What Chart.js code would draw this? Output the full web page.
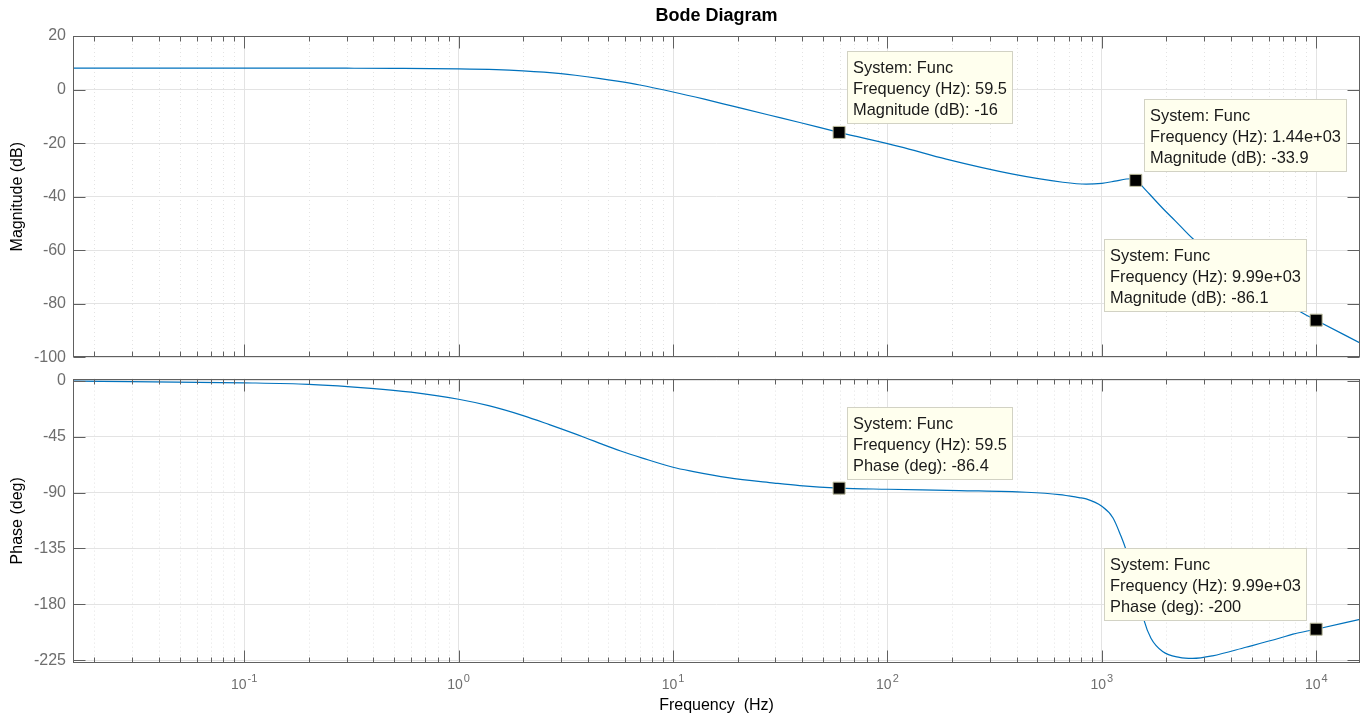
<!DOCTYPE html>
<html>
<head>
<meta charset="utf-8">
<title>Bode Diagram</title>
<script src="https://cdn.jsdelivr.net/npm/chart.js@4.4.1/dist/chart.umd.min.js"></script>
<style>
  html, body { margin: 0; padding: 0; background: #fff; }
  .wrap { position: relative; width: 1366px; height: 719px; overflow: hidden; }
  canvas { position: absolute; left: 0; }
  #magChart { top: 0; }
  #phaseChart { top: 362px; }
</style>
</head>
<body>
<div class="wrap">
  <canvas id="magChart" width="1366" height="374"></canvas>
  <canvas id="phaseChart" width="1366" height="357"></canvas>
</div>
<script>
/******************************************* data **/
// magnitude curve (Hz, dB)
const magFreq = [0.0159, 0.1, 0.3, 0.5, 1, 1.5, 2, 2.5, 3, 3.5, 4.5, 5.5, 7, 10, 14, 19, 28, 39, 59.5, 114, 188, 385, 658, 845, 1000, 1150, 1300, 1380, 1440, 1500, 1553, 1926, 2200, 2660, 3980, 6310, 8670, 9990, 16000];
const magDb = [8.0, 8.0, 7.97, 7.93, 7.75, 7.45, 7.0, 6.5, 5.95, 5.35, 4.2, 3.15, 1.7, -0.9, -3.6, -6.2, -9.5, -12.3, -16.0, -21.3, -26.0, -31.6, -34.6, -35.3, -35.0, -34.2, -33.4, -33.3, -33.9, -35.0, -36.3, -44.4, -49.0, -55.7, -66.5, -77.0, -83.5, -86.1, -94.6];

// phase curve (Hz, deg)
const phaseFreq = [0.0159, 0.1, 0.2, 0.39, 0.6, 1, 1.38, 2, 2.65, 3.9, 4.7, 5.7, 7.2, 10, 12.3, 18, 29.6, 39, 59.5, 100, 216, 444, 634, 783, 845, 1000, 1126, 1228, 1295, 1350, 1440, 1510, 1578, 1695, 1921, 2301, 2650, 3283, 4694, 6714, 7790, 9990, 16000];
const phaseDeg = [-0.2, -1.6, -2.8, -6.0, -9.1, -14.8, -20.0, -28, -35.3, -45.8, -51.2, -56.5, -62.2, -69.6, -72.9, -78, -82.3, -84.4, -86.4, -87.3, -88.4, -89.7, -91.6, -94, -95.0, -101, -110.2, -125, -135.7, -146, -163, -178, -193.5, -207.3, -218, -222.7, -223.5, -221.4, -214.5, -207.3, -203.9, -200, -192];

// data tips
const magTipFreq = [59.5, 1440, 9990];
const magTipValue = [-16, -33.9, -86.1];
const magTipFreqText = ["59.5", "1.44e+03", "9.99e+03"];
const magTipValueText = ["-16", "-33.9", "-86.1"];
const magTipSide = ["right", "right", "left"];

const phaseTipFreq = [59.5, 9990];
const phaseTipValue = [-86.4, -200];
const phaseTipFreqText = ["59.5", "9.99e+03"];
const phaseTipValueText = ["-86.4", "-200"];
const phaseTipSide = ["right", "left"];

// axes
const xMin = 0.0159;
const xMax = 16000;
const decades = [-2, -1, 0, 1, 2, 3, 4];
const magTicks = [20, 0, -20, -40, -60, -80, -100];
const phaseTicks = [0, -45, -90, -135, -180, -225];

/******************************************* style **/
const fontFamily = '"Liberation Sans", Arial, Helvetica, sans-serif';
const lineColor = "#0072bd";
const majorGrid = "#e3e3e3";
const minorGrid = "#e3e3e3";
const frameColor = "#606060";
const tickTextColor = "#6e6e6e";

Chart.defaults.font.family = fontFamily;

/******************************************* helpers **/
// log tick list: 1..9 x 10^n inside the axis range
const xTicks = [];
decades.forEach((d) => {
  for (let m = 1; m <= 9; m++) {
    const v = m * Math.pow(10, d);
    if (v >= xMin && v <= xMax) xTicks.push(v);
  }
});

function isDecade(v) {
  const e = Math.log10(v);
  return Math.abs(e - Math.round(e)) < 1e-9;
}

function toPoints(xs, ys) {
  return xs.map((x, i) => ({ x: x, y: ys[i] }));
}

function buildTips(freqs, values, freqText, valueText, sides, name) {
  return freqs.map((f, i) => ({
    freq: f,
    value: values[i],
    side: sides[i],
    lines: ["System: Func", "Frequency (Hz): " + freqText[i], name + ": " + valueText[i]],
  }));
}

const tipsByChart = {
  magChart: buildTips(magTipFreq, magTipValue, magTipFreqText, magTipValueText, magTipSide, "Magnitude (dB)"),
  phaseChart: buildTips(phaseTipFreq, phaseTipValue, phaseTipFreqText, phaseTipValueText, phaseTipSide, "Phase (deg)"),
};

/******************************************* plugin: matlab style box, ticks, data tips **/
const matlabAxes = {
  id: "matlabAxes",
  beforeDatasetsDraw(chart) {
    // dotted minor grid
    const { ctx, chartArea: a, scales } = chart;
    const x = scales.x;
    ctx.save();
    ctx.strokeStyle = minorGrid;
    ctx.lineWidth = 1;
    ctx.setLineDash([1, 3]);
    x.ticks.forEach((t) => {
      if (isDecade(t.value)) return;
      const px = Math.round(x.getPixelForValue(t.value)) + 0.5;
      ctx.beginPath();
      ctx.moveTo(px, a.top);
      ctx.lineTo(px, a.bottom);
      ctx.stroke();
    });
    ctx.restore();
  },
  afterDatasetsDraw(chart) {
    const { ctx, chartArea: a, scales } = chart;
    const x = scales.x;
    const y = scales.y;
    const left = Math.round(a.left) + 0.5;
    const right = Math.round(a.right) - 0.5;
    const top = Math.round(a.top) + 0.5;
    const bottom = Math.round(a.bottom) - 0.5;

    ctx.save();
    ctx.strokeStyle = frameColor;
    ctx.lineWidth = 1;

    // inward ticks on all four sides
    ctx.beginPath();
    x.ticks.forEach((t) => {
      const px = Math.round(x.getPixelForValue(t.value)) + 0.5;
      const len = isDecade(t.value) ? 12 : 5;
      ctx.moveTo(px, top);
      ctx.lineTo(px, top + len);
      ctx.moveTo(px, bottom);
      ctx.lineTo(px, bottom - len);
    });
    y.ticks.forEach((t) => {
      const py = Math.round(y.getPixelForValue(t.value)) + 0.5;
      ctx.moveTo(left, py);
      ctx.lineTo(left + 12, py);
      ctx.moveTo(right, py);
      ctx.lineTo(right - 12, py);
    });
    ctx.stroke();

    // box
    ctx.strokeRect(left, top, right - left, bottom - top);

    // data tips
    const tips = tipsByChart[chart.canvas.id] || [];
    ctx.font = "16.4px " + fontFamily;
    ctx.textBaseline = "middle";
    tips.forEach((tip) => {
      const px = x.getPixelForValue(tip.freq);
      const py = y.getPixelForValue(tip.value);
      const w = Math.round(Math.max(...tip.lines.map((l) => ctx.measureText(l).width)) + 12);
      const h = tip.lines.length * 21 + 10;
      const bx = Math.round(tip.side === "left" ? px - 9 - w : px + 8);
      const by = Math.round(py - 8 - h);
      ctx.fillStyle = "#ffffee";
      ctx.fillRect(bx, by, w, h);
      ctx.strokeStyle = "#d2d2c4";
      ctx.strokeRect(bx + 0.5, by + 0.5, w - 1, h - 1);
      ctx.fillStyle = "#1a1a1a";
      tip.lines.forEach((l, i) => ctx.fillText(l, bx + 6, by + 17 + i * 21));
    });
    ctx.restore();
  },
  afterDraw(chart) {
    // 10^n labels under the phase plot
    if (chart.canvas.id !== "phaseChart") return;
    const { ctx, scales } = chart;
    const x = scales.x;
    ctx.save();
    ctx.fillStyle = tickTextColor;
    ctx.textBaseline = "middle";
    ctx.textAlign = "left";
    x.ticks.forEach((t) => {
      if (!isDecade(t.value)) return;
      const exp = String(Math.round(Math.log10(t.value)));
      const px = x.getPixelForValue(t.value);
      ctx.font = "14px " + fontFamily;
      const wb = ctx.measureText("10").width;
      ctx.font = "11px " + fontFamily;
      const we = ctx.measureText(exp).width;
      const start = px - (wb + 1 + we) / 2;
      ctx.font = "14px " + fontFamily;
      ctx.fillText("10", start, 323);
      ctx.font = "11px " + fontFamily;
      ctx.fillText(exp, start + wb + 1, 317);
    });
    ctx.restore();
  },
};

/******************************************* chart builders **/
function xScale(height, title) {
  return {
    type: "logarithmic",
    min: xMin,
    max: xMax,
    afterBuildTicks: (s) => {
      s.ticks = xTicks.map((v) => ({ value: v, major: isDecade(v) }));
    },
    afterFit: (s) => {
      s.height = height;
    },
    ticks: { display: false },
    grid: {
      drawTicks: false,
      color: (c) => (c.tick && isDecade(c.tick.value) ? majorGrid : "rgba(0,0,0,0)"),
    },
    border: { display: false },
    title: title
      ? { display: true, text: title, color: "#000", font: { size: 16 }, padding: { top: 0, bottom: 3.4 } }
      : { display: false },
  };
}

function yScale(min, max, tickValues, title) {
  return {
    type: "linear",
    min: min,
    max: max,
    afterBuildTicks: (s) => {
      s.ticks = tickValues.map((v) => ({ value: v }));
    },
    afterFit: (s) => {
      s.width = 73;
    },
    ticks: { color: tickTextColor, font: { size: 16 }, padding: 7 },
    grid: { drawTicks: false, color: majorGrid },
    border: { display: false },
    title: { display: true, text: title, color: "#000", font: { size: 16 }, padding: { top: 8, bottom: 0 } },
  };
}

function curveDatasets(xs, ys, tipXs, tipYs) {
  return [
    {
      // data tip markers
      data: toPoints(tipXs, tipYs),
      pointStyle: "rect",
      pointRadius: 8.5,
      backgroundColor: "#000",
      borderColor: "#bdbd9e",
      borderWidth: 1,
      order: 0,
    },
    {
      data: toPoints(xs, ys),
      showLine: true,
      borderColor: lineColor,
      borderWidth: 1.2,
      pointRadius: 0,
      cubicInterpolationMode: "monotone",
      order: 1,
    },
  ];
}

const commonOptions = {
  responsive: false,
  animation: false,
  devicePixelRatio: 1,
  events: [],
};

// magnitude
new Chart(document.getElementById("magChart"), {
  type: "scatter",
  data: { datasets: curveDatasets(magFreq, magDb, magTipFreq, magTipValue) },
  options: {
    ...commonOptions,
    layout: { autoPadding: false, padding: { left: 0, right: 6, top: 0, bottom: 0 } },
    scales: {
      x: xScale(14, null),
      y: yScale(-100, 20, magTicks, "Magnitude (dB)"),
    },
    plugins: {
      legend: { display: false },
      tooltip: { enabled: false },
      title: {
        display: true,
        text: "Bode Diagram",
        fullSize: false,
        color: "#000",
        font: { size: 18, weight: "bold" },
        padding: { top: 5, bottom: 9.4 },
      },
    },
  },
  plugins: [matlabAxes],
});

// phase
new Chart(document.getElementById("phaseChart"), {
  type: "scatter",
  data: { datasets: curveDatasets(phaseFreq, phaseDeg, phaseTipFreq, phaseTipValue) },
  options: {
    ...commonOptions,
    layout: { autoPadding: false, padding: { left: 0, right: 6, top: 14, bottom: 0 } },
    scales: {
      x: xScale(56, "Frequency  (Hz)"),
      y: yScale(-227.2, 1.8, phaseTicks, "Phase (deg)"),
    },
    plugins: {
      legend: { display: false },
      tooltip: { enabled: false },
    },
  },
  plugins: [matlabAxes],
});
</script>
</body>
</html>
